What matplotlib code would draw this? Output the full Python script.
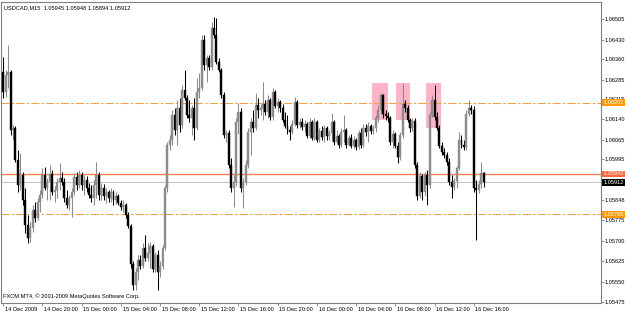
import matplotlib
matplotlib.use("Agg")
import matplotlib.pyplot as plt
import matplotlib.transforms as mtransforms
from matplotlib.patches import Rectangle

# USDCAD M15 bars, 14 Dec 2009 16:00 .. 16 Dec 2009 17:00
opens = [
    1.06313, 1.06240, 1.06302, 1.06313, 1.06102, 1.06110, 1.05994, 1.05903, 1.05939, 1.05849,
    1.05758, 1.05711, 1.05747, 1.05812, 1.05783, 1.05841, 1.05867, 1.05939, 1.05892, 1.05914,
    1.05943, 1.05877, 1.05885, 1.05914, 1.05928, 1.05914, 1.05856, 1.05830, 1.05856, 1.05877,
    1.05932, 1.05903, 1.05939, 1.05903, 1.05921, 1.05892, 1.05867, 1.05856, 1.05903, 1.05939,
    1.05867, 1.05892, 1.05863, 1.05877, 1.05856, 1.05877, 1.05849, 1.05863, 1.05838, 1.05823,
    1.05830, 1.05794, 1.05754, 1.05613, 1.05540, 1.05587, 1.05631, 1.05609, 1.05674, 1.05638,
    1.05653, 1.05682, 1.05595, 1.05649, 1.05587, 1.05609, 1.05674, 1.05892, 1.06048, 1.06066,
    1.06157, 1.06102, 1.06182, 1.06120, 1.06247, 1.06218, 1.06157, 1.06146, 1.06182, 1.06110,
    1.06240, 1.06254, 1.06429, 1.06338, 1.06363, 1.06331, 1.06472, 1.06447, 1.06349, 1.06320,
    1.06229, 1.06084, 1.06092, 1.05975, 1.05892, 1.05914, 1.06131, 1.06168, 1.05892, 1.05914,
    1.05975, 1.06095, 1.06131, 1.06110, 1.06193, 1.06175, 1.06182, 1.06197, 1.06168, 1.06211,
    1.06150, 1.06240, 1.06189, 1.06204, 1.06182, 1.06139, 1.06117, 1.06102, 1.06095, 1.06124,
    1.06204, 1.06120, 1.06131, 1.06113, 1.06124, 1.06081, 1.06131, 1.06073, 1.06131, 1.06066,
    1.06099, 1.06077, 1.06110, 1.06081, 1.06092, 1.06131, 1.06059, 1.06081, 1.06048, 1.06095,
    1.06102, 1.06048, 1.06073, 1.06044, 1.06066, 1.06041, 1.06092, 1.06048, 1.06110, 1.06095,
    1.06117, 1.06099, 1.06110, 1.06146, 1.06175, 1.06229, 1.06160, 1.06153, 1.06146, 1.06059,
    1.06088, 1.06044, 1.06004, 1.06084, 1.06197, 1.06182, 1.06139, 1.06110, 1.06135, 1.05975,
    1.05863, 1.05936, 1.05877, 1.05939, 1.05903, 1.06157, 1.06211, 1.06150, 1.06110, 1.06044,
    1.06023, 1.06012, 1.05986, 1.05914, 1.05896, 1.05917, 1.05965, 1.06066, 1.06048, 1.06041,
    1.06160, 1.06182, 1.06175, 1.05892, 1.05885, 1.05907, 1.05945,
]
highs = [
    1.06367, 1.06320, 1.06411, 1.06320, 1.06120, 1.06117, 1.06030, 1.06019, 1.05950, 1.05892,
    1.05794, 1.05769, 1.05830, 1.05841, 1.05856, 1.05885, 1.05965, 1.05968, 1.05928, 1.05975,
    1.05957, 1.05899, 1.05928, 1.05983, 1.05950, 1.05928, 1.05885, 1.05867, 1.05892, 1.05946,
    1.05950, 1.05957, 1.05950, 1.05939, 1.05936, 1.05910, 1.05903, 1.05921, 1.05986, 1.05950,
    1.05910, 1.05907, 1.05892, 1.05885, 1.05892, 1.05885, 1.05877, 1.05870, 1.05849, 1.05849,
    1.05838, 1.05805, 1.05761, 1.05624, 1.05602, 1.05649, 1.05649, 1.05692, 1.05722, 1.05692,
    1.05696, 1.05689, 1.05660, 1.05667, 1.05624, 1.05685, 1.05903, 1.06059, 1.06084, 1.06175,
    1.06182, 1.06211, 1.06218, 1.06265, 1.06320, 1.06229, 1.06211, 1.06193, 1.06218, 1.06291,
    1.06309, 1.06447, 1.06447, 1.06374, 1.06374, 1.06494, 1.06512, 1.06509, 1.06363, 1.06327,
    1.06240, 1.06102, 1.06102, 1.06001, 1.05939, 1.06146, 1.06200, 1.06182, 1.05928, 1.05994,
    1.06110, 1.06146, 1.06175, 1.06236, 1.06218, 1.06197, 1.06276, 1.06211, 1.06229, 1.06218,
    1.06254, 1.06247, 1.06218, 1.06211, 1.06197, 1.06168, 1.06157, 1.06117, 1.06139, 1.06222,
    1.06211, 1.06146, 1.06146, 1.06139, 1.06131, 1.06146, 1.06139, 1.06146, 1.06139, 1.06110,
    1.06117, 1.06120, 1.06117, 1.06102, 1.06164, 1.06139, 1.06102, 1.06088, 1.06110, 1.06157,
    1.06110, 1.06084, 1.06088, 1.06081, 1.06073, 1.06102, 1.06110, 1.06124, 1.06124, 1.06131,
    1.06124, 1.06120, 1.06157, 1.06193, 1.06236, 1.06233, 1.06175, 1.06168, 1.06153, 1.06102,
    1.06095, 1.06059, 1.06095, 1.06273, 1.06211, 1.06193, 1.06146, 1.06146, 1.06146, 1.05986,
    1.05950, 1.05943, 1.05950, 1.05957, 1.06168, 1.06229, 1.06265, 1.06168, 1.06120, 1.06059,
    1.06037, 1.06023, 1.06001, 1.05939, 1.05928, 1.05972, 1.06095, 1.06084, 1.06066, 1.06175,
    1.06211, 1.06193, 1.06189, 1.05921, 1.05921, 1.05986, 1.05948,
]
lows = [
    1.06218, 1.06222, 1.06254, 1.06084, 1.06066, 1.05986, 1.05877, 1.05885, 1.05830, 1.05729,
    1.05692, 1.05696, 1.05732, 1.05769, 1.05776, 1.05805, 1.05856, 1.05885, 1.05849, 1.05849,
    1.05867, 1.05841, 1.05856, 1.05885, 1.05903, 1.05841, 1.05819, 1.05812, 1.05787, 1.05867,
    1.05885, 1.05892, 1.05885, 1.05867, 1.05877, 1.05856, 1.05841, 1.05830, 1.05856, 1.05849,
    1.05849, 1.05849, 1.05838, 1.05841, 1.05841, 1.05830, 1.05834, 1.05830, 1.05812, 1.05805,
    1.05783, 1.05747, 1.05602, 1.05522, 1.05522, 1.05558, 1.05595, 1.05602, 1.05624, 1.05624,
    1.05602, 1.05584, 1.05587, 1.05522, 1.05566, 1.05595, 1.05667, 1.05877, 1.06030, 1.06048,
    1.06084, 1.06048, 1.06095, 1.06110, 1.06211, 1.06146, 1.06131, 1.06084, 1.06066, 1.06102,
    1.06218, 1.06247, 1.06320, 1.06276, 1.06320, 1.06320, 1.06436, 1.06342, 1.06313, 1.06218,
    1.06073, 1.06059, 1.05965, 1.05877, 1.05823, 1.05899, 1.06088, 1.05877, 1.05819, 1.05903,
    1.05965, 1.06012, 1.06095, 1.06102, 1.06146, 1.06157, 1.06139, 1.06157, 1.06146, 1.06139,
    1.06139, 1.06182, 1.06168, 1.06168, 1.06131, 1.06110, 1.06088, 1.06066, 1.06088, 1.06117,
    1.06110, 1.06110, 1.06102, 1.06095, 1.06073, 1.06073, 1.06066, 1.06066, 1.06059, 1.06059,
    1.06066, 1.06059, 1.06066, 1.06066, 1.06062, 1.06048, 1.06051, 1.06037, 1.06041, 1.06059,
    1.06037, 1.06044, 1.06037, 1.06037, 1.06030, 1.06033, 1.06037, 1.06041, 1.06081, 1.06059,
    1.06088, 1.06088, 1.06095, 1.06131, 1.06160, 1.06146, 1.06139, 1.06131, 1.06048, 1.06037,
    1.06037, 1.05983, 1.05994, 1.06073, 1.06168, 1.06131, 1.06095, 1.06099, 1.05965, 1.05849,
    1.05856, 1.05849, 1.05863, 1.05830, 1.05892, 1.06150, 1.06139, 1.06102, 1.06037, 1.06012,
    1.06001, 1.05975, 1.05903, 1.05856, 1.05885, 1.05892, 1.05957, 1.06037, 1.06030, 1.06030,
    1.06153, 1.06160, 1.05877, 1.05703, 1.05874, 1.05892, 1.05894,
]
closes = [
    1.06240, 1.06302, 1.06313, 1.06102, 1.06110, 1.05994, 1.05903, 1.05939, 1.05849, 1.05758,
    1.05711, 1.05747, 1.05812, 1.05783, 1.05841, 1.05867, 1.05939, 1.05892, 1.05914, 1.05943,
    1.05877, 1.05885, 1.05914, 1.05928, 1.05914, 1.05856, 1.05830, 1.05856, 1.05877, 1.05932,
    1.05903, 1.05939, 1.05903, 1.05921, 1.05892, 1.05867, 1.05856, 1.05903, 1.05939, 1.05867,
    1.05892, 1.05863, 1.05877, 1.05856, 1.05877, 1.05849, 1.05863, 1.05838, 1.05823, 1.05830,
    1.05794, 1.05754, 1.05613, 1.05540, 1.05587, 1.05631, 1.05609, 1.05674, 1.05638, 1.05653,
    1.05682, 1.05595, 1.05649, 1.05587, 1.05609, 1.05674, 1.05892, 1.06048, 1.06066, 1.06157,
    1.06102, 1.06182, 1.06120, 1.06247, 1.06218, 1.06157, 1.06146, 1.06182, 1.06110, 1.06240,
    1.06254, 1.06429, 1.06338, 1.06363, 1.06331, 1.06472, 1.06447, 1.06349, 1.06320, 1.06229,
    1.06084, 1.06092, 1.05975, 1.05892, 1.05914, 1.06131, 1.06168, 1.05892, 1.05914, 1.05975,
    1.06095, 1.06131, 1.06110, 1.06193, 1.06175, 1.06182, 1.06197, 1.06168, 1.06211, 1.06150,
    1.06240, 1.06189, 1.06204, 1.06182, 1.06139, 1.06117, 1.06102, 1.06095, 1.06124, 1.06204,
    1.06120, 1.06131, 1.06113, 1.06124, 1.06081, 1.06131, 1.06073, 1.06131, 1.06066, 1.06099,
    1.06077, 1.06110, 1.06081, 1.06092, 1.06131, 1.06059, 1.06081, 1.06048, 1.06095, 1.06102,
    1.06048, 1.06073, 1.06044, 1.06066, 1.06041, 1.06092, 1.06048, 1.06110, 1.06095, 1.06117,
    1.06099, 1.06110, 1.06146, 1.06175, 1.06229, 1.06160, 1.06153, 1.06146, 1.06059, 1.06088,
    1.06044, 1.06004, 1.06084, 1.06197, 1.06182, 1.06139, 1.06110, 1.06135, 1.05975, 1.05863,
    1.05936, 1.05877, 1.05939, 1.05903, 1.06157, 1.06211, 1.06150, 1.06110, 1.06044, 1.06023,
    1.06012, 1.05986, 1.05914, 1.05896, 1.05917, 1.05965, 1.06066, 1.06048, 1.06041, 1.06160,
    1.06182, 1.06175, 1.05892, 1.05885, 1.05907, 1.05946, 1.05912,
]

time_labels = ["14 Dec 2009", "14 Dec 20:00", "15 Dec 00:00", "15 Dec 04:00", "15 Dec 08:00",
               "15 Dec 12:00", "15 Dec 16:00", "15 Dec 20:00", "16 Dec 00:00", "16 Dec 04:00",
               "16 Dec 08:00", "16 Dec 12:00", "16 Dec 16:00"]
bars_per_label = 16  # 4 hours of M15 bars

price_ticks = [1.06505, 1.06430, 1.06360, 1.06285, 1.06215, 1.06140, 1.06065, 1.05995,
               1.05848, 1.05775, 1.05700, 1.05625, 1.05550, 1.05475]

resistance = 1.06201
support = 1.05795
ask_line = 1.05942
bid_line = 1.05912

# highlighted zones: (first bar, last bar, low, high)
zones = [(151, 156.6, 1.06139, 1.06273),
         (160.8, 165.6, 1.06139, 1.06273),
         (173, 178, 1.06110, 1.06273)]

fs = 4.1
plt.rcParams['font.family'] = ['Liberation Sans', 'DejaVu Sans']

fig = plt.figure(figsize=(6.25, 3.14), dpi=100)
ax = fig.add_axes([0.002, 0.035, 0.9595, 0.9586])

for x0, x1, lo, hi in zones:
    ax.add_patch(Rectangle((x0 - 0.5, lo), x1 - x0 + 1, hi - lo,
                           facecolor='#ffb3c6', edgecolor='none', zorder=1))

for i in range(len(closes)):
    up = closes[i] >= opens[i]
    col = '#8c8c8c' if up else '#000000'
    ax.vlines(i, lows[i], highs[i], color=col, linewidth=0.75, zorder=3)
    bot = min(opens[i], closes[i])
    h = max(abs(closes[i] - opens[i]), 0.000012)
    ax.add_patch(Rectangle((i - 0.4, bot), 0.8, h, facecolor=col,
                           edgecolor=col, linewidth=0.3, zorder=3))

dd = dict(color='#f5a040', linewidth=0.75, dashes=(7.7, 2.2, 2.2, 2.2), zorder=2)
ax.axhline(resistance, **dd)
ax.axhline(support, **dd)
ax.axhline(ask_line, color='#ff7f50', linewidth=1.0, zorder=2)
ax.axhline(bid_line, color='#c8c8c8', linewidth=0.8, zorder=2)

ax.set_xlim(-0.8, 243.9)
ax.set_ylim(1.05473, 1.06567)

ax.yaxis.tick_right()
ax.set_yticks(price_ticks)
ax.set_yticklabels(["%.5f" % p for p in price_ticks])
ax.set_xticks([k * bars_per_label for k in range(len(time_labels))])
ax.set_xticklabels(time_labels, ha='left')
ax.tick_params(axis='both', direction='out', length=2.2, width=0.6, colors='#808080',
               labelcolor='black', labelsize=fs)
ax.tick_params(axis='y', pad=0.4)
ax.tick_params(axis='x', pad=1)
shift = mtransforms.ScaledTranslation(1.2 / 72, 0, fig.dpi_scale_trans)
for lab in ax.get_xticklabels():
    lab.set_transform(lab.get_transform() + shift)
for s in ax.spines.values():
    s.set_color('#808080')
    s.set_linewidth(0.8)

# price markers on the right scale
trans = mtransforms.blended_transform_factory(ax.transAxes, ax.transData)
for p, fc in [(resistance, '#ff9900'), (ask_line, '#ff6a3d'),
              (bid_line, '#000000'), (support, '#ff9900')]:
    ax.text(1.004, p, "%.5f" % p, transform=trans, fontsize=fs, color='white',
            va='center', ha='left', clip_on=False, zorder=6,
            bbox=dict(boxstyle='square,pad=0.15', facecolor=fc, edgecolor='none'))

ax.text(0.005, 0.99, "USDCAD,M15  1.05945 1.05948 1.05894 1.05912", transform=ax.transAxes,
        fontsize=fs, va='top', ha='left')
ax.text(0.003, 0.012, "FXCM MT4, \u00a9 2001-2009 MetaQuotes Software Corp.", transform=ax.transAxes,
        fontsize=fs, va='bottom', ha='left')

fig.savefig('out.png', dpi=100, facecolor='white')
